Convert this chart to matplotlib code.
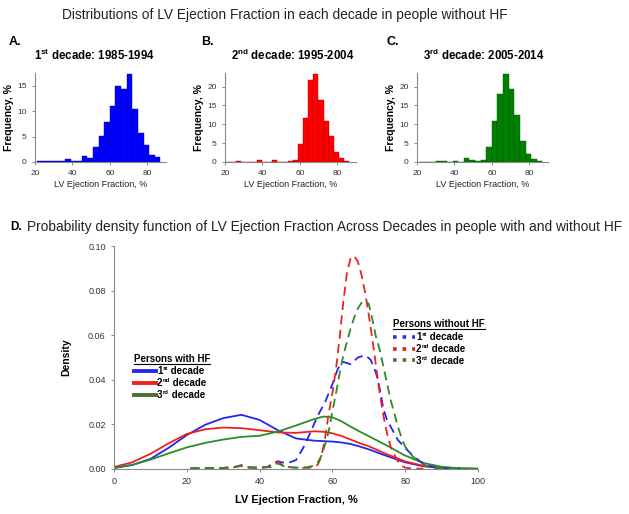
import numpy as np
import matplotlib
matplotlib.use("Agg")
import matplotlib.pyplot as plt
from matplotlib.lines import Line2D

plt.rcParams["font.family"] = ["Liberation Sans", "DejaVu Sans"]
plt.rcParams["mathtext.fontset"] = "custom"
plt.rcParams["mathtext.rm"] = "Liberation Sans"
plt.rcParams["mathtext.bf"] = "Liberation Sans:bold"

# ---------------- data ----------------
decades = ["1st decade", "2nd decade", "3rd decade"]
periods = ["1985-1994", "1995-2004", "2005-2014"]

# histograms (frequency, %) of LV EF in people without HF
hist_a_start, hist_a_width = 21, 3
hist_a = [0.1, 0.1, 0.1, 0.15, 0.15, 0.6, 0.1, 0.2, 1.1, 0.8, 3.0, 5.1, 7.8,
          11.0, 14.9, 14.3, 17.3, 10.4, 5.7, 3.3, 1.4, 1.0]
hist_b_start, hist_b_width = 20.4, 2.75
hist_b = [0, 0, 0.2, 0.05, 0.05, 0.05, 0.6, 0.05, 0, 0.6, 0.05, 0, 0.15, 0.4,
          4.7, 11.7, 21.7, 23.3, 16.5, 11.0, 6.8, 2.6, 1.0, 0.3]
hist_c_start, hist_c_width = 21, 3
hist_c = [0, 0, 0.1, 0.15, 0.15, 0.1, 0.2, 0.1, 1.0, 0.4, 0.2, 0.6, 3.9,
          11.0, 18.1, 23.4, 19.3, 12.5, 5.6, 2.2, 0.8, 0.3]

# density, persons with HF (solid)
hf_x = [0, 5, 10, 15, 20, 25, 30, 35, 40, 45, 50, 55, 57.5, 60, 62.5, 65,
        67.5, 70, 75, 80, 85, 90, 95, 100]
hf_1 = [0.0004, 0.0018, 0.0045, 0.0095, 0.0152, 0.0198, 0.0228, 0.0243, 0.022,
        0.0174, 0.0137, 0.0127, 0.0125, 0.0123, 0.0119, 0.0112, 0.0101, 0.0088,
        0.0058, 0.003, 0.0012, 0.0005, 0.0002, 0.0001]
hf_2 = [0.0009, 0.003, 0.0068, 0.0115, 0.0157, 0.0178, 0.0186, 0.0183, 0.0174,
        0.0164, 0.0162, 0.0169, 0.0167, 0.016, 0.0148, 0.0132, 0.0116, 0.0102,
        0.0066, 0.0034, 0.0014, 0.0006, 0.0002, 0.0001]
hf_3 = [0.0006, 0.0018, 0.0042, 0.007, 0.0097, 0.0117, 0.0132, 0.0144, 0.0149,
        0.0168, 0.0195, 0.0224, 0.0235, 0.0232, 0.0214, 0.019, 0.0168, 0.0147,
        0.0105, 0.006, 0.0027, 0.001, 0.0003, 0.0001]

# density, persons without HF (dashed)
nohf_x_1 = [21, 25, 30, 33, 35, 37, 40, 42, 44, 45, 46, 48, 50, 52, 54, 56,
            58, 60, 61.5, 63, 65, 67, 69, 70.5, 72, 73, 74, 75, 76, 78, 80,
            82, 84, 86, 88, 90, 95]
nohf_1 = [0.0002, 0.0003, 0.0004, 0.0008, 0.0015, 0.0008, 0.0004, 0.0008,
          0.0028, 0.0035, 0.003, 0.0028, 0.004, 0.0095, 0.0165, 0.024, 0.03,
          0.038, 0.045, 0.048, 0.047, 0.05, 0.051, 0.049, 0.043, 0.036, 0.027,
          0.022, 0.019, 0.013, 0.0094, 0.0062, 0.0035, 0.0018, 0.0007, 0.0003,
          0.0001]
nohf_x_2 = [21, 25, 30, 33, 35, 37, 40, 43, 45, 47, 50, 53, 55, 56, 57, 58,
            59, 60, 61, 62, 63, 64, 65, 66, 67, 68, 69, 70, 71, 72, 73, 74,
            75, 76, 77, 78, 79, 80, 82, 85]
nohf_2 = [0.0003, 0.0004, 0.0005, 0.0008, 0.0018, 0.0007, 0.0005, 0.0012,
          0.0032, 0.001, 0.0006, 0.0005, 0.0008, 0.002, 0.0057, 0.014, 0.025,
          0.034, 0.045, 0.059, 0.075, 0.088, 0.0945, 0.0955, 0.093, 0.087,
          0.079, 0.069, 0.058, 0.046, 0.034, 0.024, 0.016, 0.01, 0.0065,
          0.0035, 0.0015, 0.0006, 0.0002, 0.0001]
nohf_x_3 = [21, 25, 30, 35, 37, 40, 43, 45, 47, 50, 53, 55, 56, 57, 58, 59,
            60, 61, 62, 63, 64, 65, 66, 67, 68, 69, 70, 71, 72, 73, 74, 75,
            76, 77, 78, 79, 80, 82, 84, 86, 88, 90, 95]
nohf_3 = [0.0003, 0.0004, 0.0005, 0.0013, 0.0006, 0.0008, 0.0008, 0.0025,
          0.001, 0.0006, 0.0008, 0.0015, 0.003, 0.006, 0.011, 0.017, 0.026,
          0.034, 0.043, 0.051, 0.057, 0.063, 0.068, 0.072, 0.0745, 0.0755,
          0.074, 0.067, 0.059, 0.0535, 0.046, 0.0385, 0.031, 0.025, 0.019,
          0.014, 0.01, 0.0057, 0.003, 0.0013, 0.0005, 0.0002, 0.0001]

W, H = 629, 514
fig = plt.figure(figsize=(W / 100, H / 100), dpi=100)
renderer = fig.canvas.get_renderer()


def fx(x):
    return x / W


def fy(y):
    return 1 - y / H


def style_axes(ax, size):
    for s in ["top", "right"]:
        ax.spines[s].set_visible(False)
    for s in ["left", "bottom"]:
        ax.spines[s].set_color("#888888")
        ax.spines[s].set_linewidth(0.8)
    ax.tick_params(direction="out", length=2.5, width=0.7, colors="#888888",
                   labelsize=size, labelcolor="#333333")


def sup_entry(x, y, label, sup, size):
    # "1" + small raised "st" + " decade", placed piece by piece
    parts = label.split(" ", 1)
    t1 = fig.text(fx(x), fy(y), parts[0][0], fontsize=size, fontweight="bold", va="center")
    x += t1.get_window_extent(renderer).width + 0.5
    t2 = fig.text(fx(x), fy(y - 2.5), sup, fontsize=size * 0.6, fontweight="bold", va="center")
    x += t2.get_window_extent(renderer).width
    fig.text(fx(x), fy(y), " " + parts[1], fontsize=size, fontweight="bold", va="center")


# top title
fig.text(fx(285), fy(15), "Distributions of LV Ejection Fraction in each decade in people without HF",
         ha="center", va="center", fontsize=9.9, color="#222222")

hists = [(hist_a, hist_a_start, hist_a_width, "#0000ff", "#0000b0", 17.5, [0, 5, 10, 15]),
         (hist_b, hist_b_start, hist_b_width, "#ff0000", "#b00000", 23.6, [0, 5, 10, 15, 20]),
         (hist_c, hist_c_start, hist_c_width, "#008000", "#005500", 23.6, [0, 5, 10, 15, 20])]
ax_left = [35, 225, 417]
panel_lab = ["A.", "B.", "C."]
lab_x = [15, 207, 393]
sub_x = [94, 293, 484]
sups = ["st", "nd", "rd"]

for i, (h, start, bw, col, ecol, ytop, yt) in enumerate(hists):
    ax = fig.add_axes([fx(ax_left[i]), fy(162), 131 / W, 89 / H])
    edges = start + bw * np.arange(len(h))
    ax.bar(edges, h, width=bw, align="edge", color=col, edgecolor=ecol, linewidth=0.3)
    ax.set_xlim(20, 90)
    ax.set_ylim(0, ytop)
    ax.set_xticks([20, 40, 60, 80])
    ax.set_yticks(yt)
    style_axes(ax, 6)
    ax.set_xlabel("LV Ejection Fraction, %", fontsize=6.5, color="#222222", labelpad=2)
    ax.set_ylabel("Frequency, %", fontsize=7.5, fontweight="bold", labelpad=2)
    fig.text(fx(lab_x[i]), fy(42), panel_lab[i], fontsize=9, fontweight="bold",
             ha="center", va="center")
    fig.text(fx(sub_x[i]), fy(55),
             decades[i][0] + r"$^{\mathbf{" + sups[i] + "}}$" + " decade: " + periods[i],
             fontsize=8.3, fontweight="bold", ha="center", va="center")

# panel D
fig.text(fx(16), fy(227), "D.", fontsize=8.5, fontweight="bold", ha="center", va="center")
fig.text(fx(27), fy(227),
         "Probability density function of LV Ejection Fraction Across Decades in people with and without HF",
         fontsize=9.9, ha="left", va="center", color="#222222")

axd = fig.add_axes([fx(114), fy(469), 364 / W, 223 / H])
line_cols = ["#2424f0", "#f02020", "#2a8c2a"]
for xs, ys, c in zip([hf_x] * 3, [hf_1, hf_2, hf_3], line_cols):
    axd.plot(xs, ys, color=c, lw=1.3)
for xs, ys, c in zip([nohf_x_1, nohf_x_2, nohf_x_3], [nohf_1, nohf_2, nohf_3], line_cols):
    axd.plot(xs, ys, color=c, lw=1.3, dashes=(5, 3))
axd.set_xlim(0, 100)
axd.set_ylim(0, 0.1)
axd.set_xticks([0, 20, 40, 60, 80, 100])
axd.set_yticks([0, 0.02, 0.04, 0.06, 0.08, 0.10])
axd.set_yticklabels(["0.00", "0.02", "0.04", "0.06", "0.08", "0.10"])
style_axes(axd, 6.5)
axd.set_xlabel("LV Ejection Fraction, %", fontsize=8, fontweight="bold", labelpad=6)
axd.set_ylabel("Density", fontsize=7.5, fontweight="bold", labelpad=12)

# legends (drawn by hand, titles underlined)
leg_specs = [("Persons with HF", 134, 359, [371, 383, 395], "-", 2.8,
              ["#2a2af0", "#f02020", "#4f6f30"]),
             ("Persons without HF", 393, 324, [337, 348.5, 360], ":", 2.6,
              ["#3030e0", "#e02020", "#5a6b3a"])]
for title, x0, ty, ys, ls, lw, cols in leg_specs:
    t = fig.text(fx(x0), fy(ty), title, fontsize=7, fontweight="bold", ha="left", va="center")
    bb = t.get_window_extent(renderer)
    fig.add_artist(Line2D([bb.x0 / W, bb.x1 / W], [fy(ty + 5)] * 2, color="black", lw=0.8))
    for j, y in enumerate(ys):
        fig.add_artist(Line2D([fx(x0), fx(x0 + 22)], [fy(y)] * 2, color=cols[j], lw=lw, ls=ls))
        sup_entry(x0 + 23, y + 0.5, decades[j], sups[j], 7)

fig.savefig("out.png", dpi=100)
